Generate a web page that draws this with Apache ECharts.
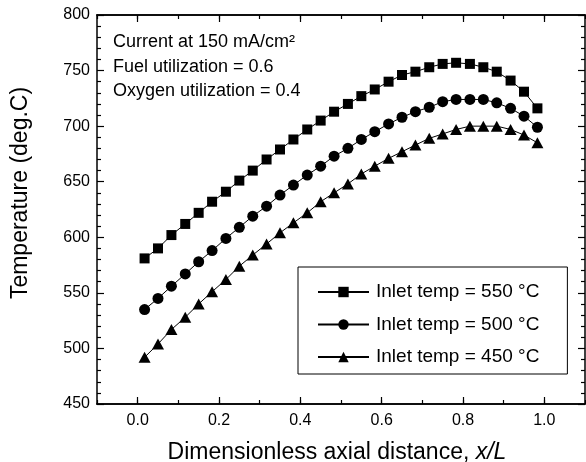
<!DOCTYPE html>
<html>
<head>
<meta charset="utf-8">
<script src="https://cdn.jsdelivr.net/npm/echarts@6/dist/echarts.min.js"></script>
<style>
  html, body { margin: 0; padding: 0; background: #fff; }
  #chart { width: 586px; height: 462px; }
</style>
</head>
<body>
<div id="chart"></div>
<script>
// Axial temperature profiles along the cell for three inlet temperatures
const FONT = '"Liberation Sans", Arial, Helvetica, sans-serif';

const xPos = [0.017, 0.050, 0.083, 0.117, 0.150, 0.183, 0.217, 0.250, 0.283, 0.317,
              0.350, 0.383, 0.417, 0.450, 0.483, 0.517, 0.550, 0.583, 0.617, 0.650,
              0.683, 0.717, 0.750, 0.783, 0.817, 0.850, 0.883, 0.917, 0.950, 0.983];

const temp550 = [581, 590, 602, 612, 622, 632, 641, 651, 660, 670,
                 679, 688, 697, 705, 713, 720, 727, 733, 740, 746,
                 749, 753, 756, 757, 756, 753, 749, 741, 731, 716];

const temp500 = [535, 545, 556, 567, 578, 588, 599, 609, 619, 628,
                 638, 647, 656, 664, 673, 680, 688, 695, 702, 708,
                 713, 717, 722, 724, 724, 724, 721, 716, 709, 699];

const temp450 = [492, 504, 517, 528, 540, 551, 562, 574, 584, 594,
                 604, 613, 622, 632, 640, 648, 657, 664, 671, 677,
                 683, 689, 693, 697, 700, 700, 700, 697, 692, 685];

const seriesNames = ['Inlet temp = 550 °C', 'Inlet temp = 500 °C', 'Inlet temp = 450 °C'];
const seriesSymbols = ['rect', 'circle', 'triangle'];
const seriesSizes = [10, 11, [12, 11]];

const xMajorTicks = [0, 0.2, 0.4, 0.6, 0.8, 1.0];

const notes = ['Current at 150 mA/cm²', 'Fuel utilization = 0.6', 'Oxygen utilization = 0.4'];
const xTitle = ['Dimensionless axial distance, ', 'x/L'];
const yTitle = 'Temperature (deg.C)';

const pairs = ys => xPos.map((x, i) => [x, ys[i]]);
const allTemps = [temp550, temp500, temp450];

const chart = echarts.init(document.getElementById('chart'), null, { renderer: 'canvas' });

const frameLine = { show: true, onZero: false, lineStyle: { color: '#000', width: 1.5 } };

// tenth-step ticks (short) on the horizontal frame edges
function minorX(position) {
  return {
    type: 'value', position, min: -0.1, max: 1.1, interval: 0.1,
    axisLine: frameLine,
    axisTick: { show: true, inside: true, length: 4, lineStyle: { color: '#000', width: 1.2 } },
    axisLabel: { show: false }, splitLine: { show: false }
  };
}
// labelled major ticks every 0.2
function majorX(position, withLabels) {
  return {
    type: 'value', position, min: -0.1, max: 1.1,
    axisLine: frameLine,
    axisTick: { show: true, inside: true, length: 7, customValues: xMajorTicks,
                lineStyle: { color: '#000', width: 1.2 } },
    axisLabel: { show: withLabels, customValues: xMajorTicks, margin: 9,
                 formatter: v => v.toFixed(1),
                 fontSize: 16, fontFamily: FONT, color: '#000' },
    splitLine: { show: false }
  };
}
function yAxisDef(position, withLabels) {
  return {
    type: 'value', position, min: 450, max: 800, interval: 50,
    axisLine: frameLine,
    axisTick: { show: true, inside: true, length: 7, lineStyle: { color: '#000', width: 1.2 } },
    minorTick: { show: true, splitNumber: 5, length: 4, lineStyle: { color: '#000', width: 1.2 } },
    axisLabel: { show: withLabels, margin: 7, fontSize: 16, fontFamily: FONT, color: '#000' },
    splitLine: { show: false }
  };
}

const option = {
  animation: false,
  backgroundColor: '#fff',
  grid: { left: 97, right: 1, top: 15, bottom: 58, containLabel: false },
  xAxis: [majorX('bottom', true), minorX('bottom'), majorX('top', false), minorX('top')],
  yAxis: [yAxisDef('left', true), yAxisDef('right', false)],
  legend: {
    orient: 'vertical', left: 298, top: 267,
    padding: [15, 28, 7, 19],
    itemWidth: 51, itemHeight: 13, itemGap: 12.5,
    borderColor: '#000', borderWidth: 1,
    textStyle: { fontSize: 19, fontFamily: FONT, color: '#000', lineHeight: 20, padding: [0, 0, 0, 2] },
    data: seriesNames
  },
  series: allTemps.map((ys, k) => ({
    name: seriesNames[k],
    type: 'line',
    xAxisIndex: 0, yAxisIndex: 0,
    data: pairs(ys),
    symbol: seriesSymbols[k],
    symbolSize: seriesSizes[k],
    showAllSymbol: true,
    itemStyle: { color: '#000' },
    lineStyle: { color: '#000', width: 1 }
  })),
  graphic: [
    ...notes.map((t, i) => ({
      type: 'text', x: 113, y: [42, 67, 91][i],
      style: { text: t, fontSize: 18, fontFamily: FONT, fill: '#000',
               align: 'left', verticalAlign: 'middle' }
    })),
    {
      type: 'text', x: 337, y: 453,
      style: {
        text: '{n|' + xTitle[0] + '}{i|' + xTitle[1] + '}',
        align: 'center', verticalAlign: 'middle',
        rich: {
          n: { fontSize: 23, fontFamily: FONT, fill: '#000', color: '#000' },
          i: { fontSize: 23, fontFamily: FONT, fontStyle: 'italic', fill: '#000', color: '#000' }
        }
      }
    },
    {
      type: 'text', x: 21, y: 193, rotation: Math.PI / 2,
      style: { text: yTitle, fontSize: 23, fontFamily: FONT, fill: '#000',
               align: 'center', verticalAlign: 'middle' }
    }
  ]
};

chart.setOption(option);
</script>
</body>
</html>
